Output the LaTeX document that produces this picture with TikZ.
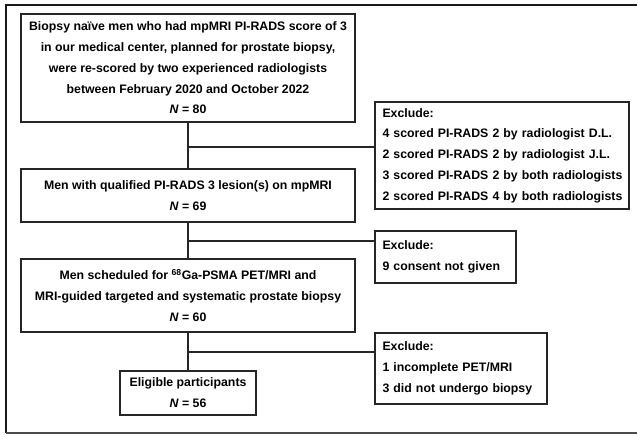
\documentclass[tikz,border=0pt]{standalone}
\usepackage{fontspec}
\setmainfont{Liberation Sans}
\begin{document}
\begin{tikzpicture}[x=1bp,y=-1bp,
  box/.style={draw=black!85, line width=1.1bp, inner sep=0pt, font=\bfseries\fontsize{12.3bp}{20.8bp}\selectfont},
  mainbox/.style={box, align=center},
  exbox/.style={box, align=left, text width=#1, inner xsep=7.5bp},
  conn/.style={draw=black!85, line width=1.1bp}]
\useasboundingbox (0,0) rectangle (637,436);
\draw[line width=1.8bp, black!90] (6,433) -- (6,5) -- (640,5);
\draw[line width=1.8bp, black!70] (6,433) -- (640,433);
% main boxes
\node[mainbox, minimum width=334bp, minimum height=108bp] (b1) at (188,68)
  {Biopsy naïve men who had mpMRI PI-RADS score of 3\\in our medical center, planned for prostate biopsy,\\were re-scored by two experienced radiologists\\between February 2020 and October 2022\\\textit{N} = 80};
\node[mainbox, minimum width=334bp, minimum height=53bp] (b2) at (188,195.5)
  {Men with qualified PI-RADS 3 lesion(s) on mpMRI\\\textit{N} = 69};
\node[mainbox, minimum width=334bp, minimum height=73bp] (b3) at (188,295.5)
  {Men scheduled for \textsuperscript{68}Ga-PSMA PET/MRI and\\MRI-guided targeted and systematic prostate biopsy\\\textit{N} = 60};
\node[mainbox, minimum width=136bp, minimum height=44bp] (b4) at (188,393)
  {Eligible participants\\\textit{N} = 56};
% exclude boxes
\node[exbox=239bp, minimum height=107bp] (e1) at (502,155.5)
  {\mbox{Exclude:}\\\mbox{4 scored PI-RADS 2 by radiologist D.L.}\\\mbox{2 scored PI-RADS 2 by radiologist J.L.}\\\mbox{3 scored PI-RADS 2 by both radiologists}\\\mbox{2 scored PI-RADS 4 by both radiologists}};
\node[exbox=126bp, minimum height=52bp] (e2) at (445.5,257)
  {\mbox{Exclude:}\\\mbox{9 consent not given}};
\node[exbox=157bp, minimum height=71bp] (e3) at (461,368.5)
  {\mbox{Exclude:}\\\mbox{1 incomplete PET/MRI}\\\mbox{3 did not undergo biopsy}};
% connectors
\coordinate (j1) at (188,147);
\coordinate (j2) at (188,241);
\coordinate (j3) at (188,352);
\draw[conn] (b1.south) -- (b2.north);
\draw[conn] (b2.south) -- (b3.north);
\draw[conn] (b3.south) -- (b4.north);
\draw[conn] (j1) -- (j1 -| e1.west);
\draw[conn] (j2) -- (j2 -| e2.west);
\draw[conn] (j3) -- (j3 -| e3.west);
\end{tikzpicture}
\end{document}
